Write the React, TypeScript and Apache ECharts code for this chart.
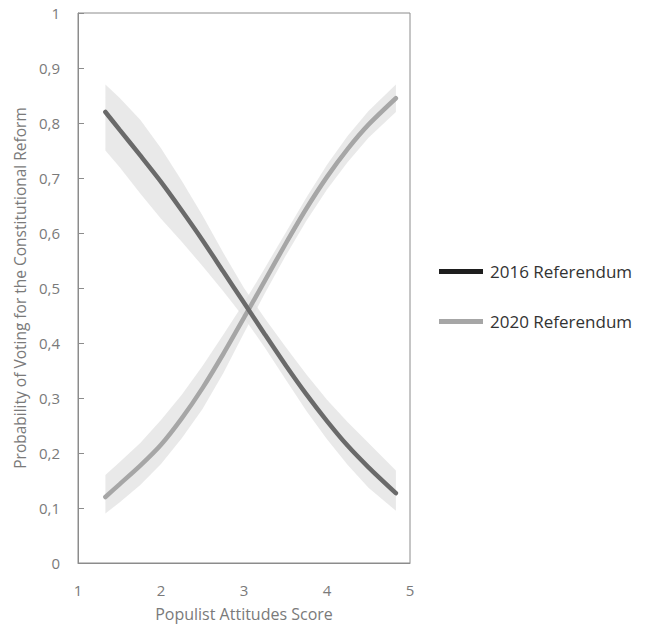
import React, { useEffect, useRef } from "react";
import * as echarts from "echarts";

const xs = [1.33, 1.5, 1.75, 2, 2.25, 2.5, 2.75, 3, 3.25, 3.5, 3.75, 4, 4.25, 4.5, 4.83];
const p2016 = [0.82, 0.788, 0.741, 0.693, 0.641, 0.587, 0.53, 0.473, 0.416, 0.36, 0.307, 0.258, 0.213, 0.174, 0.127];
const up2016 = [0.87, 0.846, 0.806, 0.754, 0.695, 0.632, 0.564, 0.5, 0.445, 0.393, 0.343, 0.297, 0.256, 0.218, 0.168];
const lo2016 = [0.75, 0.72, 0.672, 0.626, 0.584, 0.54, 0.494, 0.446, 0.392, 0.334, 0.277, 0.225, 0.178, 0.137, 0.095];
const p2020 = [0.12, 0.143, 0.177, 0.215, 0.263, 0.318, 0.38, 0.446, 0.513, 0.58, 0.644, 0.702, 0.753, 0.797, 0.845];
const up2020 = [0.16, 0.183, 0.218, 0.26, 0.306, 0.358, 0.415, 0.473, 0.536, 0.6, 0.664, 0.724, 0.777, 0.822, 0.87];
const lo2020 = [0.09, 0.11, 0.142, 0.18, 0.227, 0.28, 0.345, 0.418, 0.49, 0.558, 0.622, 0.679, 0.729, 0.773, 0.82];
const seriesNames = ["2016 Referendum", "2020 Referendum"];

const FONT = "Open Sans";

function bandSeries(upper: number[], lower: number[], name: string) {
  return {
    type: "custom",
    name: name + " CI",
    silent: true,
    z: 1,
    data: [[xs[0], upper[0]]],
    renderItem: (_params: any, api: any) => {
      const pts: number[][] = [];
      for (let i = 0; i < xs.length; i++) pts.push(api.coord([xs[i], upper[i]]));
      for (let i = xs.length - 1; i >= 0; i--) pts.push(api.coord([xs[i], lower[i]]));
      return {
        type: "polygon",
        shape: { points: pts },
        style: { fill: "#e2e2e2", opacity: 0.75 },
      };
    },
  };
}

export default function App() {
  const ref = useRef<HTMLDivElement>(null);
  useEffect(() => {
    if (!ref.current) return;
    const chart = echarts.init(ref.current, undefined, { renderer: "svg" });
    chart.setOption({
      animation: false,
      backgroundColor: "#ffffff",
      grid: {
        left: 78,
        right: 242,
        top: 13,
        bottom: 59,
        show: true,
        borderColor: "#8c8c8c",
        borderWidth: 1,
      },
      legend: {
        orient: "vertical",
        left: 434,
        top: 258,
        itemGap: 33,
        itemWidth: 44,
        itemHeight: 5,
        textStyle: { fontFamily: FONT, fontSize: 17, color: "#333333", padding: [0, 0, 0, 2] },
        data: [
          { name: seriesNames[0], icon: "rect", itemStyle: { color: "#1e1e1e" } },
          { name: seriesNames[1], icon: "rect", itemStyle: { color: "#a6a6a6" } },
        ],
      },
      xAxis: {
        type: "value",
        min: 1,
        max: 5,
        interval: 1,
        name: "Populist Attitudes Score",
        nameLocation: "middle",
        nameGap: 43,
        nameTextStyle: { fontFamily: FONT, fontSize: 16, color: "#7a7a7a" },
        axisLine: { show: true, lineStyle: { color: "#8c8c8c", width: 1 } },
        axisTick: { show: false },
        axisLabel: { fontFamily: FONT, fontSize: 15, color: "#7a7a7a", margin: 19 },
        splitLine: { show: false },
      },
      yAxis: {
        type: "value",
        min: 0,
        max: 1,
        interval: 0.1,
        name: "Probability of Voting for the Constitutional Reform",
        nameLocation: "middle",
        nameGap: 50,
        nameTextStyle: { fontFamily: FONT, fontSize: 15.5, color: "#7a7a7a" },
        axisLine: { show: true, lineStyle: { color: "#8c8c8c", width: 1 } },
        axisTick: { show: true, inside: true, length: 6, lineStyle: { color: "#8c8c8c" } },
        axisLabel: {
          fontFamily: FONT,
          fontSize: 15,
          color: "#7a7a7a",
          margin: 18,
          formatter: (v: number) => String(Math.round(v * 10) / 10).replace(".", ","),
        },
        splitLine: { show: false },
      },
      series: [
        bandSeries(up2016, lo2016, seriesNames[0]),
        bandSeries(up2020, lo2020, seriesNames[1]),
        {
          type: "line",
          name: seriesNames[1],
          z: 3,
          smooth: 0.25,
          showSymbol: false,
          symbol: "none",
          lineStyle: { color: "#a6a6a6", width: 4.5, cap: "round" },
          itemStyle: { color: "#a6a6a6" },
          data: xs.map((x, i) => [x, p2020[i]]),
        },
        {
          type: "line",
          name: seriesNames[0],
          z: 4,
          smooth: 0.25,
          showSymbol: false,
          symbol: "none",
          lineStyle: { color: "#6a6a6a", width: 4.5, cap: "round" },
          itemStyle: { color: "#1e1e1e" },
          data: xs.map((x, i) => [x, p2016[i]]),
        },
      ],
    });
    return () => chart.dispose();
  }, []);
  return <div ref={ref} style={{ width: 652, height: 627, marginLeft: -8, marginTop: -8 }} />;
}
